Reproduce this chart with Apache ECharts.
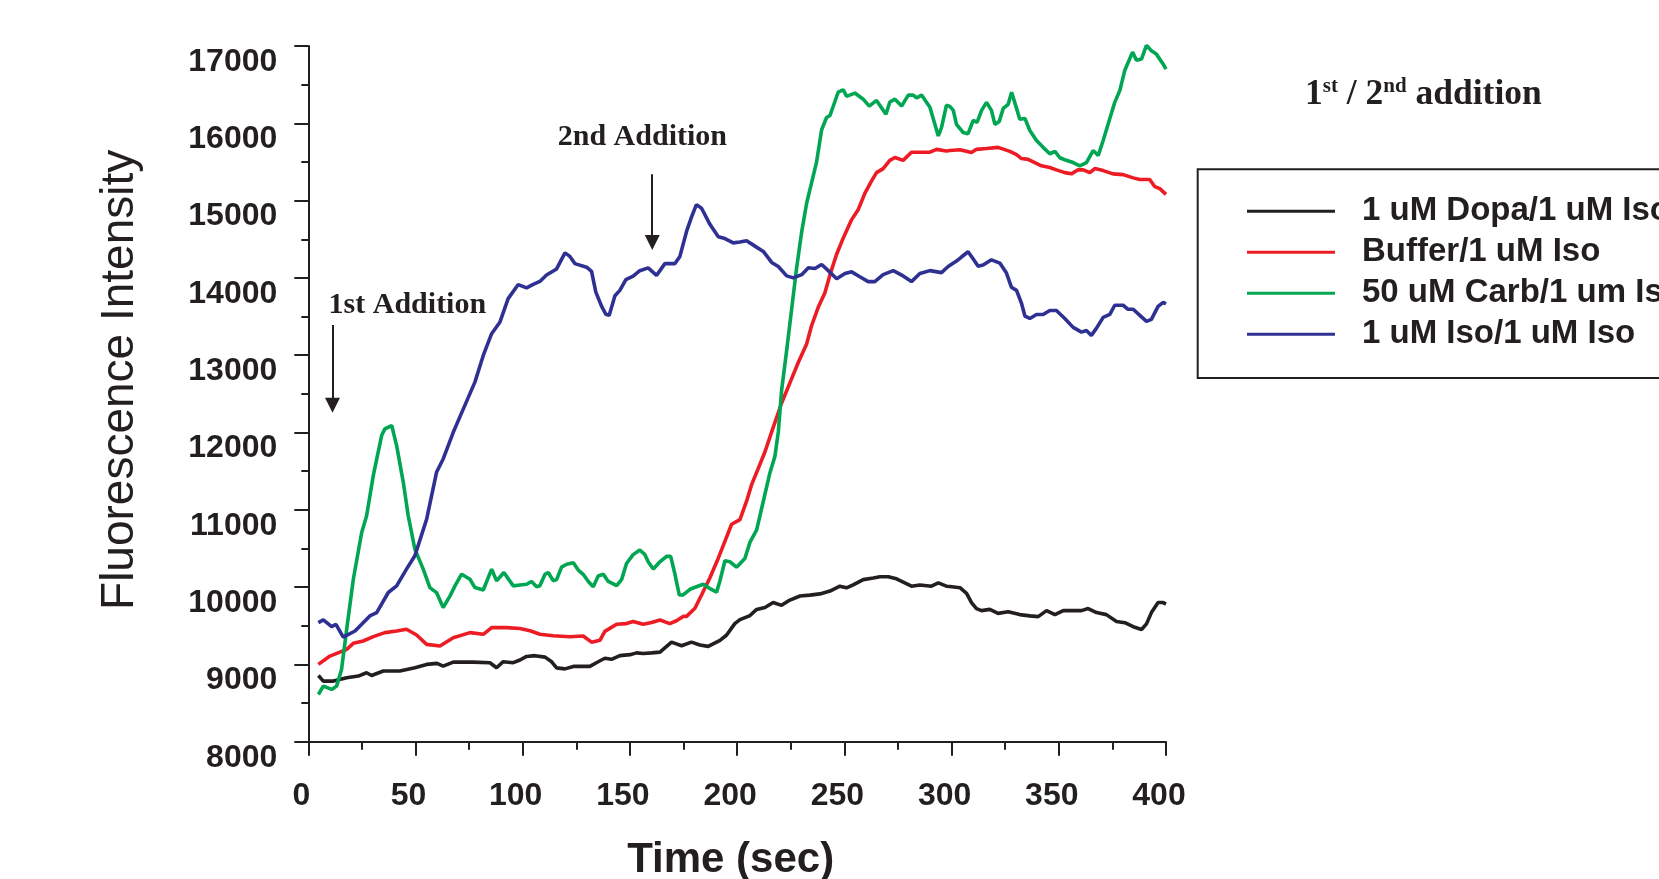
<!DOCTYPE html>
<html>
<head>
<meta charset="utf-8">
<script src="https://cdn.jsdelivr.net/npm/echarts@6/dist/echarts.min.js"></script>
<style>
html,body{margin:0;padding:0;background:#fff;}
#chart{width:1659px;height:879px;}
</style>
</head>
<body>
<div id="chart"></div>
<script>
// ---- data (time in sec, fluorescence intensity) ----
const seriesNames = ['1 uM Dopa/1 uM Iso', 'Buffer/1 uM Iso', '50 uM Carb/1 um Iso', '1 uM Iso/1 uM Iso'];

const dopaIso = [[4.7,8857],[7,8784],[11.7,8784],[17.9,8827],[23.3,8849],[27.2,8892],[29.5,8857],[35,8914],[42.7,8914],[49.7,8957],[55.2,9000],[60,9013],[62.9,8978],[67.6,9030],[76.9,9030],[84.7,9022],[87.8,8957],[90.9,9035],[95.6,9022],[98.7,9057],[101.8,9103],[105.7,9113],[110.4,9094],[113.5,9034],[115.8,8955],[119.7,8942],[123.6,8974],[131.3,8974],[135.2,9034],[138.3,9080],[141.4,9066],[145.3,9113],[150,9126],[153.1,9149],[156.2,9140],[160.1,9149],[164,9159],[167.1,9233],[169.4,9288],[174.1,9242],[178.7,9288],[182.6,9251],[186.5,9233],[192,9311],[195.1,9380],[198.9,9528],[201.3,9579],[206,9632],[209.1,9711],[213,9737],[216.8,9801],[220.7,9764],[224.6,9832],[229.3,9885],[233.9,9896],[238.6,9912],[243.3,9949],[247.9,10012],[251,9991],[254.1,10028],[258.8,10097],[263.5,10118],[266.6,10134],[270.5,10134],[274.3,10107],[278.2,10054],[281.3,10012],[285.2,10028],[290.6,10012],[293.8,10054],[297.6,10012],[299.2,10008],[303.9,9992],[307,9920],[309.3,9800],[311.6,9722],[314,9696],[317.8,9712],[321.7,9660],[326.4,9680],[331.8,9644],[336.5,9628],[340.4,9618],[344.3,9696],[348.2,9644],[352.1,9696],[356.7,9696],[360.6,9696],[363.7,9722],[367.6,9670],[372.2,9644],[376.9,9556],[380.8,9540],[384.7,9488],[388.6,9451],[390.9,9524],[393.2,9670],[396.3,9800],[398.7,9800],[400,9780]];

const bufferIso = [[4.7,9000],[10.1,9108],[17.9,9195],[21,9273],[25.6,9303],[30.3,9359],[35.7,9411],[41.2,9432],[45.8,9454],[50.5,9380],[55.2,9259],[61.4,9238],[67.6,9346],[75.4,9411],[81.6,9389],[85.5,9476],[92.5,9476],[98.7,9464],[103.4,9436],[108,9390],[114.2,9371],[122,9357],[128.2,9367],[132.1,9288],[136,9311],[138.3,9427],[143.8,9519],[148.4,9528],[151.5,9556],[156.2,9519],[160.1,9542],[164,9575],[168.6,9528],[171.7,9565],[174.8,9621],[176.4,9621],[180.3,9727],[183.4,9898],[187.3,10120],[191.2,10374],[193.5,10536],[197.4,10813],[201.3,10873],[204.4,11111],[206.7,11322],[209.8,11533],[212.9,11744],[216.1,12008],[218.4,12193],[220.7,12378],[224.6,12642],[228.5,12906],[232.4,13144],[234.7,13381],[237.8,13619],[240.9,13804],[243.3,14042],[246.4,14306],[249.5,14517],[253.4,14754],[256.5,14886],[259.6,15097],[262.7,15256],[265,15362],[268.1,15414],[271.2,15520],[273.6,15557],[277.4,15520],[281.3,15626],[285.2,15626],[289.9,15626],[293,15663],[297.6,15642],[299.2,15648],[303.9,15658],[309.3,15622],[311.6,15663],[316.3,15674],[321.7,15689],[327.2,15637],[330.3,15596],[332.6,15544],[335.7,15533],[338.8,15492],[341.9,15450],[345.8,15429],[348.9,15398],[352.8,15362],[355.9,15346],[359,15398],[361.4,15398],[364.5,15362],[366.8,15414],[370.7,15388],[375.3,15346],[380,15336],[384.7,15294],[387.8,15273],[392.4,15273],[394.8,15180],[397.1,15154],[400,15080]];

const carbIso = [[4.7,8611],[7,8719],[10.9,8676],[13.2,8719],[15.5,8935],[17.9,9454],[21,10102],[24.9,10707],[27.2,10923],[30.3,11442],[34.2,11961],[35.7,12047],[38.9,12090],[41.2,11831],[44.3,11355],[46.6,10923],[49.7,10491],[53.6,10232],[56.7,9994],[59.8,9929],[62.9,9735],[66.1,9886],[68.4,10016],[71.5,10167],[75.4,10102],[77.7,9994],[81.6,9963],[85.5,10232],[87.8,10080],[91.2,10189],[95.6,10016],[98.7,10027],[101.8,10036],[104.1,10073],[106.5,10004],[108,10018],[110.4,10166],[111.9,10189],[114.2,10083],[115.8,10097],[118.1,10258],[120.5,10295],[123.6,10314],[125.9,10221],[128.2,10166],[130.6,10073],[132.9,10004],[135.2,10143],[137.6,10166],[139.9,10073],[143.8,10018],[146.1,10097],[148.4,10305],[151.5,10420],[154.6,10480],[157,10420],[158.5,10328],[160.9,10235],[164,10328],[167.1,10397],[169,10397],[171,10166],[173,9898],[174.8,9898],[178,9972],[181,10004],[184.2,10036],[187.3,9981],[190.4,9935],[191.9,10073],[194.3,10341],[196.6,10328],[199.7,10258],[203.6,10371],[206,10582],[209.1,10741],[212.2,11111],[215.3,11480],[217.6,11691],[219.2,12008],[220.7,12536],[223.1,13064],[225.4,13593],[227.7,14121],[230.1,14596],[232.4,14966],[234.7,15230],[237,15494],[239.4,15916],[241.7,16075],[243.3,16101],[247.1,16402],[249.5,16434],[251,16349],[254.9,16391],[258.8,16312],[261.6,16223],[265,16296],[269.4,16117],[271.2,16275],[273.6,16312],[276.7,16223],[279.8,16365],[282.1,16365],[283.7,16328],[286,16365],[289.9,16207],[293.8,15837],[295.3,15943],[297.6,16233],[299.2,16219],[300.8,16167],[302.3,15986],[305.4,15881],[307.7,15866],[310.1,16037],[311.9,16011],[314,16167],[316.3,16271],[318.6,16167],[320.2,15986],[322.2,16022],[324.1,16193],[326.4,16245],[328,16401],[330.3,16193],[331.8,16053],[334.2,16063],[336.5,15907],[339.6,15778],[342.7,15689],[345.8,15606],[348.2,15637],[350.5,15554],[352.8,15528],[356.7,15492],[359.8,15450],[362.9,15492],[366,15648],[368.4,15585],[370.7,15778],[373.8,16063],[376.1,16271],[378.5,16427],[380.8,16687],[384.4,16921],[386.2,16817],[388.6,16833],[390.9,17009],[393.2,16937],[395.5,16895],[398.7,16765],[400,16700]];

const isoIso = [[4.7,9540],[7,9575],[10.9,9488],[12.9,9519],[16.3,9354],[21.8,9432],[24.9,9519],[28.7,9627],[31.9,9670],[37.3,9930],[41.2,10016],[45.8,10232],[49.7,10405],[55.2,10880],[59.8,11485],[62.9,11658],[67.6,12003],[72.3,12306],[77.7,12652],[81.6,12997],[85.5,13278],[89.4,13430],[93.2,13732],[97.9,13914],[101.8,13871],[104.9,13917],[108,13954],[111.1,14037],[115.8,14116],[119.7,14324],[122,14278],[124.3,14185],[129.8,14139],[132.1,14084],[134.1,13816],[136.8,13631],[138.8,13529],[140.3,13515],[143,13769],[145.3,13839],[148.1,13977],[151.5,14023],[154.6,14093],[158.5,14130],[162.4,14033],[166.3,14185],[171,14185],[173.3,14278],[176.4,14601],[178.7,14786],[181,14948],[183.4,14901],[187.3,14693],[191.2,14532],[194.3,14509],[198.2,14453],[201.3,14464],[204.4,14480],[208.3,14411],[212.2,14342],[216.1,14200],[219.2,14147],[223.1,14026],[226.2,14000],[230.1,14042],[233.2,14131],[236.3,14121],[239.4,14174],[242.5,14094],[246.4,13989],[250.3,14057],[253.4,14078],[257.2,14015],[261.1,13952],[264.2,13952],[268.1,14042],[272.8,14094],[277.4,14026],[281.3,13952],[285.2,14057],[289.9,14094],[295.3,14068],[298.4,14147],[302.3,14218],[304.6,14270],[307.7,14338],[310.1,14244],[312.4,14151],[314.7,14166],[318.6,14234],[322.5,14192],[325.6,14062],[327.9,13880],[330.3,13839],[332.6,13672],[334.2,13506],[336.5,13475],[339.6,13527],[342.7,13527],[345.8,13579],[348.9,13579],[352.8,13475],[356.7,13360],[360.6,13298],[362.9,13319],[365.2,13256],[367.6,13350],[370.7,13490],[373.8,13527],[376.1,13646],[380,13646],[382.3,13594],[384.7,13594],[387.8,13516],[390.9,13438],[393.2,13464],[396.3,13631],[398.7,13683],[400,13665]];

// annotation labels and arrows (in data coordinates: [time, intensity])
const annotationLabels = ['1st Addition', '2nd Addition'];
const annotationLabelAt = [[46.2, 13649], [155.8, 15823]];
const arrowFrom = [[11.3, 13391], [160.4, 15340]];
const arrowTo = [[11.3, 12353], [160.4, 14458]];

const legendTitle = ['1', 'st', ' / 2', 'nd', ' addition'];

// ---- chart ----
const ink = '#231f20';
const colors = ['#231f20', '#ed1c24', '#00a651', '#2e3192'];
const datasets = [dopaIso, bufferIso, carbIso, isoIso];
const sans = 'Liberation Sans, Arial, Helvetica, sans-serif';
const serif = 'Liberation Serif, Times New Roman, serif';

const chart = echarts.init(document.getElementById('chart'), null, {renderer: 'canvas'});

const series = datasets.map((d, i) => ({
  name: seriesNames[i],
  type: 'line',
  data: d,
  color: colors[i],
  showSymbol: false,
  symbol: 'none',
  smooth: false,
  lineStyle: {color: colors[i], width: 3.6},
  z: 3 + i
}));

series[0].markLine = {
  silent: true,
  symbol: ['none', 'triangle'],
  symbolSize: [15, 15],
  label: {show: false},
  lineStyle: {color: ink, width: 2, type: 'solid'},
  data: arrowFrom.map((f, i) => [{coord: f}, {coord: arrowTo[i]}])
};
series[0].markPoint = {
  silent: true,
  symbol: 'circle',
  symbolSize: 1,
  itemStyle: {color: 'rgba(0,0,0,0)'},
  label: {
    show: true, position: 'inside', formatter: '{b}',
    fontFamily: serif, fontWeight: 'bold', fontSize: 30, color: ink
  },
  data: annotationLabels.map((t, i) => ({name: t, coord: annotationLabelAt[i]}))
};

const option = {
  animation: false,
  backgroundColor: '#ffffff',
  title: {
    text: '{n|' + legendTitle[0] + '}{s|' + legendTitle[1] + '}{n|' + legendTitle[2] + '}{s|' + legendTitle[3] + '}{n|' + legendTitle[4] + '}',
    left: 1305, top: 76, padding: 0,
    textStyle: {
      rich: {
        n: {fontFamily: serif, fontWeight: 'bold', fontSize: 35.5, lineHeight: 38, color: ink},
        s: {fontFamily: serif, fontWeight: 'bold', fontSize: 21, lineHeight: 24, verticalAlign: 'top', color: ink}
      }
    }
  },
  legend: {
    orient: 'vertical',
    left: 1197.7, top: 169.3,
    padding: [19.5, 80, 21.2, 49.3],
    itemGap: -4,
    itemWidth: 88, itemHeight: 3,
    icon: 'rect',
    borderColor: ink, borderWidth: 2,
    selectedMode: false,
    textStyle: {fontFamily: sans, fontWeight: 'bold', fontSize: 33, lineHeight: 33, color: ink, padding: [0, 0, 12, 22]},
    data: seriesNames
  },
  grid: {left: 308.3, right: 1659 - 1166, top: 46, bottom: 879 - 741.7, containLabel: false, outerBoundsMode: 'none'},
  xAxis: {
    type: 'value', min: 0, max: 400, interval: 50,
    axisLine: {show: true, onZero: false, lineStyle: {color: ink, width: 2}},
    axisTick: {show: true, length: 14, lineStyle: {color: ink, width: 2}},
    minorTick: {show: true, splitNumber: 2, length: 8, lineStyle: {color: ink, width: 2}},
    splitLine: {show: false}, minorSplitLine: {show: false},
    axisLabel: {fontFamily: sans, fontWeight: 'bold', fontSize: 32, lineHeight: 32, color: ink, margin: 38, padding: [0, 14, 0, 0], formatter: (v) => String(v)},
    name: 'Time (sec)', nameLocation: 'middle', nameGap: 98,
    nameTextStyle: {fontFamily: sans, fontWeight: 'bold', fontSize: 42, lineHeight: 42, color: ink, padding: [0, 13, 0, 0]}
  },
  yAxis: {
    type: 'value', min: 8000, max: 17000, interval: 1000,
    axisLine: {show: true, onZero: false, lineStyle: {color: ink, width: 2}},
    axisTick: {show: true, length: 14, lineStyle: {color: ink, width: 2}},
    minorTick: {show: true, splitNumber: 2, length: 7, lineStyle: {color: ink, width: 2}},
    splitLine: {show: false}, minorSplitLine: {show: false},
    axisLabel: {fontFamily: sans, fontWeight: 'bold', fontSize: 32, lineHeight: 32, color: ink, margin: 31, verticalAlign: 'top', formatter: (v) => String(v)},
    name: 'Fluorescence Intensity', nameLocation: 'middle', nameRotate: 90, nameGap: 165,
    nameTextStyle: {fontFamily: sans, fontSize: 46, lineHeight: 46, color: ink, padding: [0, 0, 0, 28]}
  },
  series: series
};
chart.setOption(option);
</script>
</body>
</html>
